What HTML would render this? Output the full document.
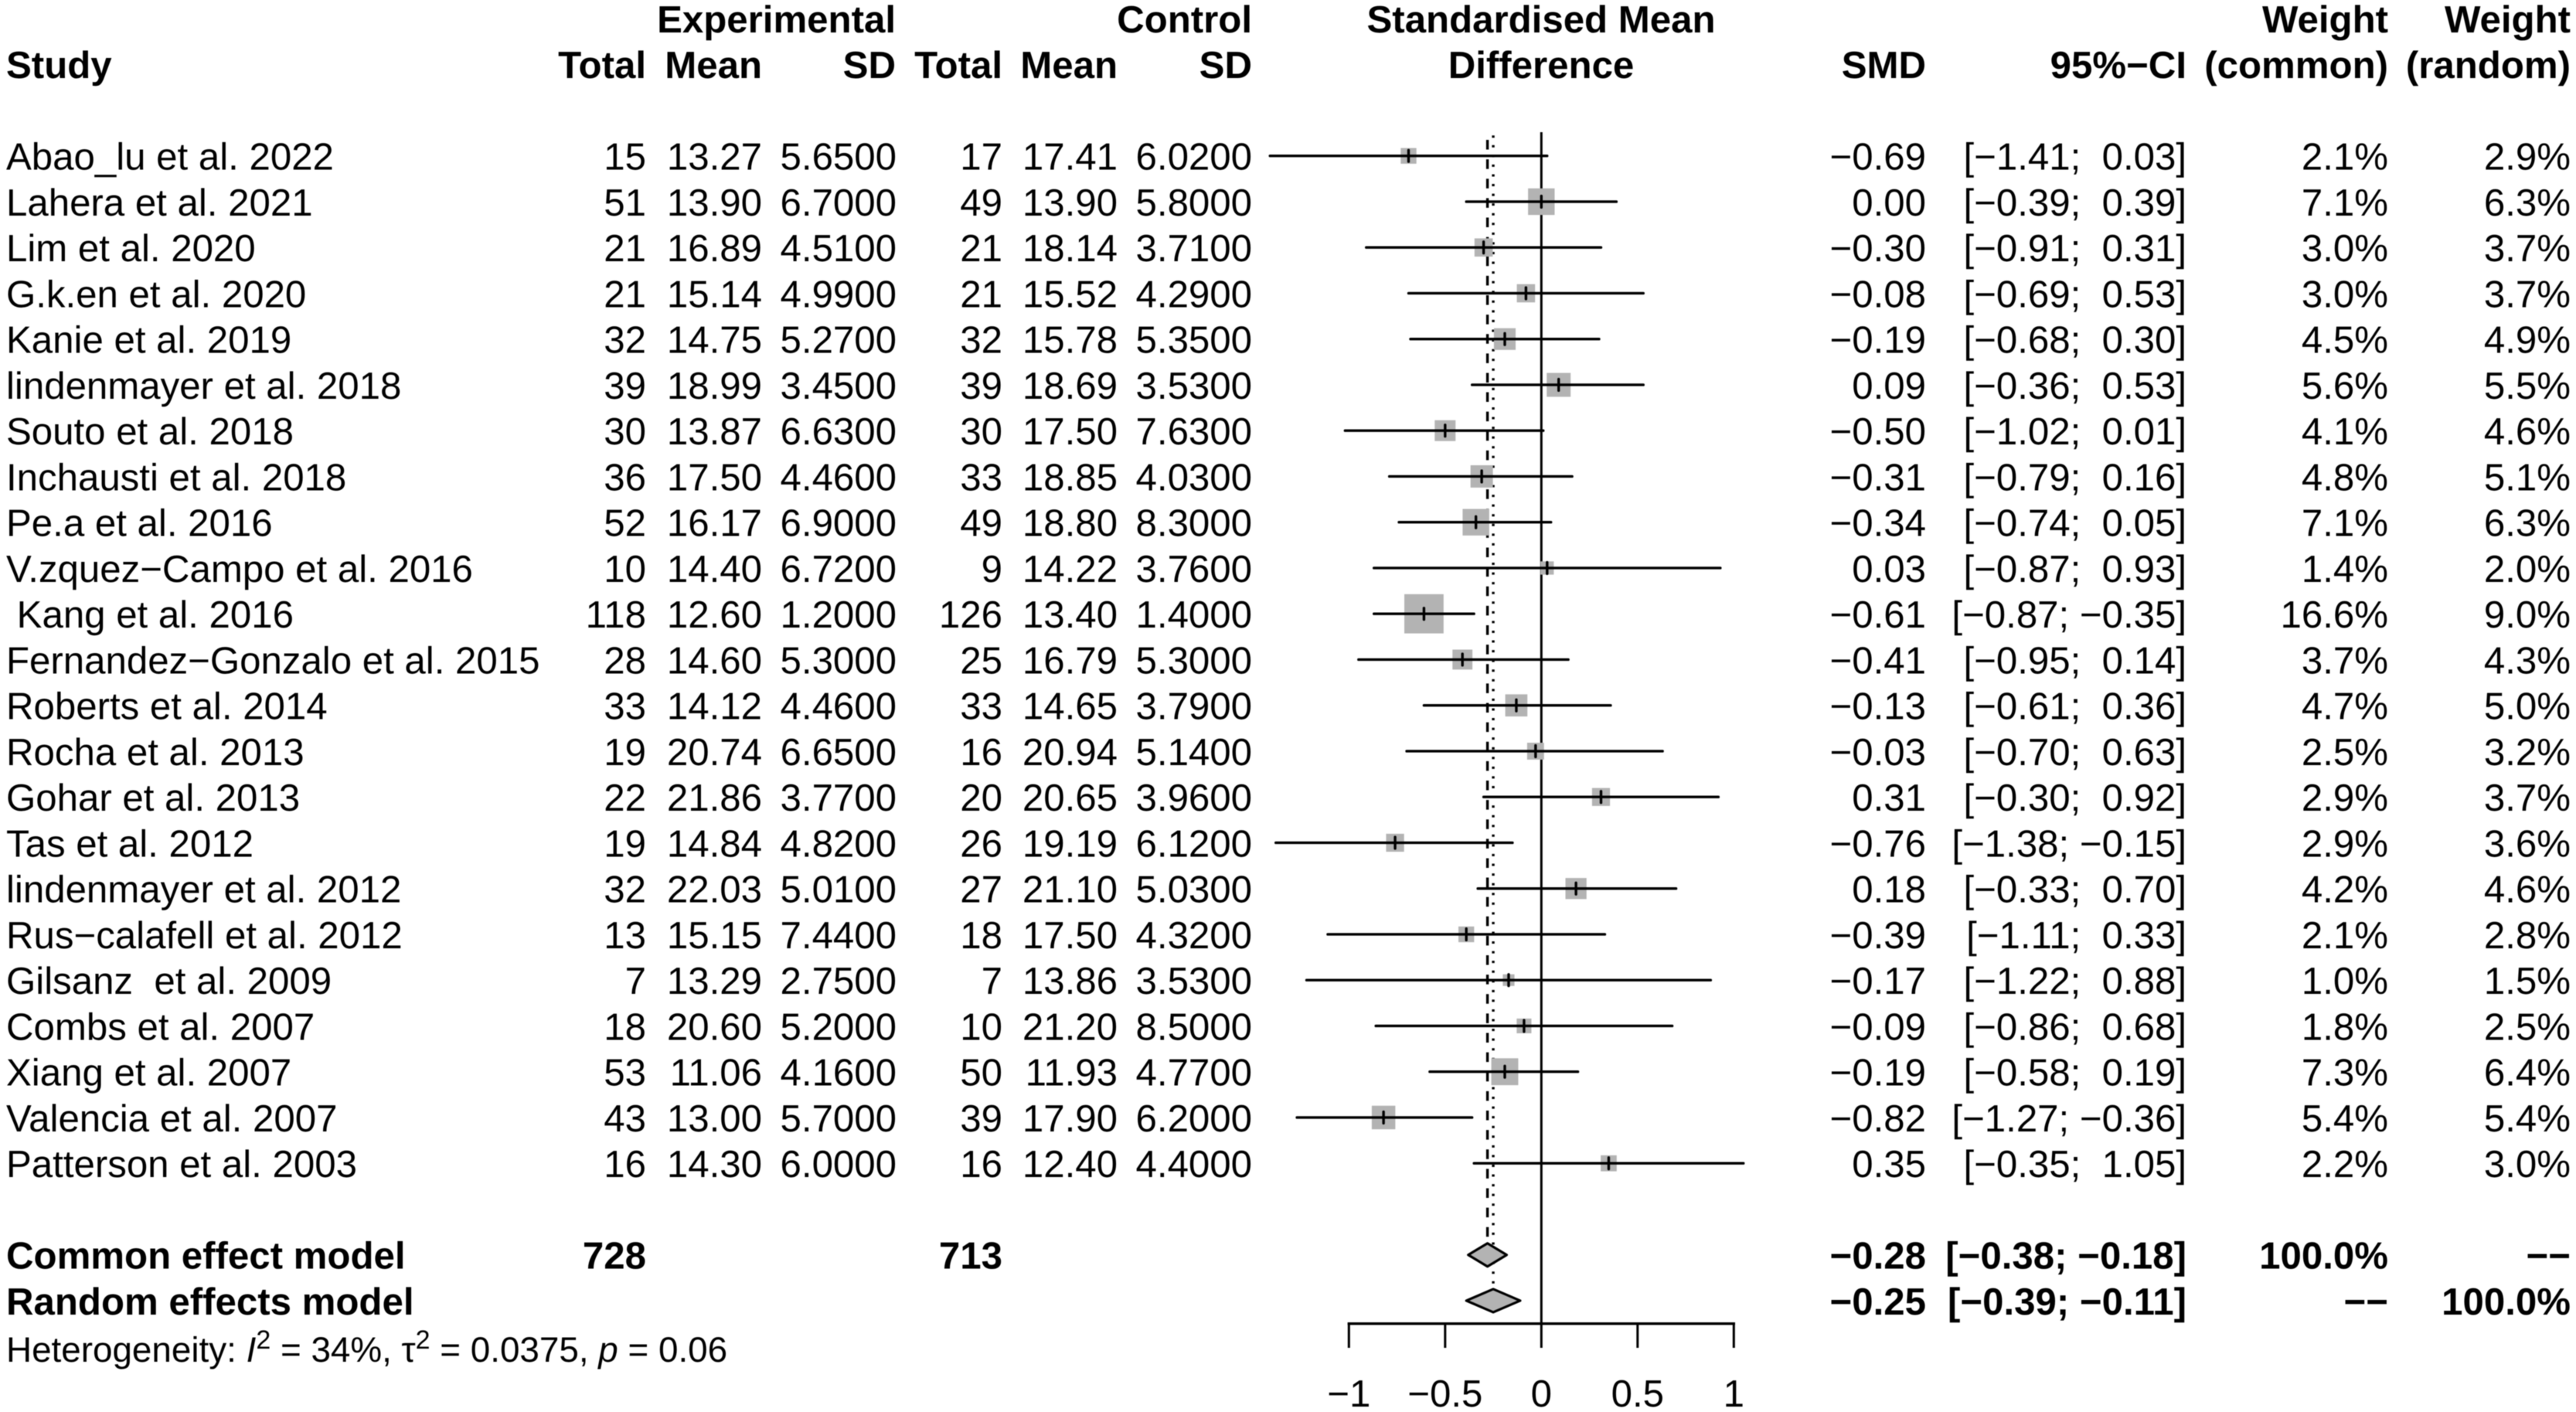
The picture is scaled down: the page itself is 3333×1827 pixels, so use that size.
<!DOCTYPE html>
<html lang="en">
<head>
<meta charset="utf-8">
<title>Forest plot: standardised mean difference</title>
<style>
html,body{margin:0;padding:0;background:#fff;}
svg{display:block;filter:blur(0.5px);}
text{font-family:"Liberation Sans",Arial,sans-serif;font-size:49.2px;fill:#000;white-space:pre;text-rendering:geometricPrecision;}
.b{font-weight:bold;}
.e{text-anchor:end;}
.m{text-anchor:middle;}
</style>
</head>
<body>
<svg id="chart" xmlns="http://www.w3.org/2000/svg" width="3333" height="1827" viewBox="0 0 3333 1827" xml:space="preserve">
<rect x="0" y="0" width="3333" height="1827" fill="#fff"/>
<g id="header">
<text class="b e" x="1159" y="42">Experimental</text>
<text class="b e" x="1620" y="42">Control</text>
<text class="b m" x="1994" y="42">Standardised Mean</text>
<text class="b e" x="3090" y="42">Weight</text>
<text class="b e" x="3326" y="42">Weight</text>
<text class="b" x="8" y="101">Study</text>
<text class="b e" x="836" y="101">Total</text>
<text class="b e" x="986" y="101">Mean</text>
<text class="b e" x="1159" y="101">SD</text>
<text class="b e" x="1297" y="101">Total</text>
<text class="b e" x="1446" y="101">Mean</text>
<text class="b e" x="1620" y="101">SD</text>
<text class="b m" x="1994" y="101">Difference</text>
<text class="b e" x="2492" y="101">SMD</text>
<text class="b e" x="2829" y="101">95%−CI</text>
<text class="b e" x="3090" y="101">(common)</text>
<text class="b e" x="3326" y="101">(random)</text>
</g>
<g id="refLines"></g>
<g id="marks"></g>
<g id="summary"></g>
<g id="axis"></g>
<g id="rows"></g>
<g id="summaryRows"></g>
<text x="8" y="1762" style="font-size:45.8px">Heterogeneity: <tspan font-style="italic">I</tspan><tspan dy="-17" style="font-size:34px">2</tspan><tspan dy="17"> = 34%, τ</tspan><tspan dy="-17" style="font-size:34px">2</tspan><tspan dy="17"> = 0.0375, </tspan><tspan font-style="italic">p</tspan> = 0.06</text>
</svg>
<script>
const studies = ["Abao_lu et al. 2022","Lahera et al. 2021","Lim et al. 2020","G.k.en et al. 2020","Kanie et al. 2019","lindenmayer et al. 2018","Souto et al. 2018","Inchausti et al. 2018","Pe.a et al. 2016","V.zquez−Campo et al. 2016"," Kang et al. 2016","Fernandez−Gonzalo et al. 2015","Roberts et al. 2014","Rocha et al. 2013","Gohar et al. 2013","Tas et al. 2012","lindenmayer et al. 2012","Rus−calafell et al. 2012","Gilsanz  et al. 2009","Combs et al. 2007","Xiang et al. 2007","Valencia et al. 2007","Patterson et al. 2003"];
const expTotal = [15,51,21,21,32,39,30,36,52,10,118,28,33,19,22,19,32,13,7,18,53,43,16];
const expMean = [13.27,13.90,16.89,15.14,14.75,18.99,13.87,17.50,16.17,14.40,12.60,14.60,14.12,20.74,21.86,14.84,22.03,15.15,13.29,20.60,11.06,13.00,14.30];
const expSd = [5.65,6.70,4.51,4.99,5.27,3.45,6.63,4.46,6.90,6.72,1.20,5.30,4.46,6.65,3.77,4.82,5.01,7.44,2.75,5.20,4.16,5.70,6.00];
const ctlTotal = [17,49,21,21,32,39,30,33,49,9,126,25,33,16,20,26,27,18,7,10,50,39,16];
const ctlMean = [17.41,13.90,18.14,15.52,15.78,18.69,17.50,18.85,18.80,14.22,13.40,16.79,14.65,20.94,20.65,19.19,21.10,17.50,13.86,21.20,11.93,17.90,12.40];
const ctlSd = [6.02,5.80,3.71,4.29,5.35,3.53,7.63,4.03,8.30,3.76,1.40,5.30,3.79,5.14,3.96,6.12,5.03,4.32,3.53,8.50,4.77,6.20,4.40];
const smd = [-0.69,0.00,-0.30,-0.08,-0.19,0.09,-0.50,-0.31,-0.34,0.03,-0.61,-0.41,-0.13,-0.03,0.31,-0.76,0.18,-0.39,-0.17,-0.09,-0.19,-0.82,0.35];
const ciLower = [-1.41,-0.39,-0.91,-0.69,-0.68,-0.36,-1.02,-0.79,-0.74,-0.87,-0.87,-0.95,-0.61,-0.70,-0.30,-1.38,-0.33,-1.11,-1.22,-0.86,-0.58,-1.27,-0.35];
const ciUpper = [0.03,0.39,0.31,0.53,0.30,0.53,0.01,0.16,0.05,0.93,-0.35,0.14,0.36,0.63,0.92,-0.15,0.70,0.33,0.88,0.68,0.19,-0.36,1.05];
const weightCommon = [2.1,7.1,3.0,3.0,4.5,5.6,4.1,4.8,7.1,1.4,16.6,3.7,4.7,2.5,2.9,2.9,4.2,2.1,1.0,1.8,7.3,5.4,2.2];
const weightRandom = [2.9,6.3,3.7,3.7,4.9,5.5,4.6,5.1,6.3,2.0,9.0,4.3,5.0,3.2,3.7,3.6,4.6,2.8,1.5,2.5,6.4,5.4,3.0];
const summaryLabels = ["Common effect model","Random effects model"];
const summaryEstimate = [-0.28,-0.25];
const summaryLower = [-0.38,-0.39];
const summaryUpper = [-0.18,-0.11];
const summaryExpTotal = [728,null];
const summaryCtlTotal = [713,null];
const summaryWeightCommon = [100.0,null];
const summaryWeightRandom = [null,100.0];
const axisTicks = [-1,-0.5,0,0.5,1];
const axisTickLabels = ["−1","−0.5","0","0.5","1"];

const SVGNS = "http://www.w3.org/2000/svg";
function xScale(v){ return 1994.3 + 249 * v; }
function yRow(i){ return 201.7 + 59.25 * i; }
function ySummary(i){ return yRow(studies.length + 1 + i); }
function squareSize(w){ return 11.6 * Math.sqrt(w) + 3.5; }
function make(tag, parent){
  const el = document.createElementNS(SVGNS, tag);
  parent.appendChild(el);
  return el;
}
function seg(parent, x1, y1, x2, y2, width, cap){
  const el = make("line", parent);
  el.setAttribute("x1", x1); el.setAttribute("y1", y1);
  el.setAttribute("x2", x2); el.setAttribute("y2", y2);
  el.setAttribute("stroke", "#000");
  el.setAttribute("stroke-width", width);
  el.setAttribute("stroke-linecap", cap || "round");
  return el;
}
function label(parent, x, y, str, cls){
  const el = make("text", parent);
  el.setAttribute("x", x); el.setAttribute("y", y);
  if (cls) el.setAttribute("class", cls);
  el.textContent = str;
  return el;
}
function neg(v, d){ return v.toFixed(d).replace("-", "−"); }
function ciText(lo, up){
  const l = neg(lo, 2), u = neg(up, 2);
  const pl = lo < 0 ? "" : " ";
  const pu = up < 0 ? "" : " ";
  return "[" + pl + l + "; " + pu + u + "]";
}

const refG = document.getElementById("refLines");
const marksG = document.getElementById("marks");
const sumG = document.getElementById("summary");
const axisG = document.getElementById("axis");
const rowsG = document.getElementById("rows");
const sumRowsG = document.getElementById("summaryRows");

const zeroLine = seg(refG, xScale(0), 171, xScale(0), 1712.5, 3, "butt");


const commonLine = seg(refG, xScale(summaryEstimate[0]), 181, xScale(summaryEstimate[0]), ySummary(0) - 15, 3.4, "butt");
commonLine.setAttribute("stroke-dasharray", "12.5 12.62");


const randomLine = seg(refG, xScale(summaryEstimate[1]), 175.2, xScale(summaryEstimate[1]), ySummary(1) - 15, 3.4, "butt");
randomLine.setAttribute("stroke-dasharray", "3 9.564");



studies.forEach(function(name, i){
  const y = yRow(i), cx = xScale(smd[i]), s = squareSize(weightCommon[i]);
  const sq = make("rect", marksG);
  sq.setAttribute("x", cx - s / 2); sq.setAttribute("y", y - s / 2);
  sq.setAttribute("width", s); sq.setAttribute("height", s);
  sq.setAttribute("fill", "#b3b3b3");
  
  
  const ci = seg(marksG, xScale(ciLower[i]), y, xScale(ciUpper[i]), y, 3.4);
  
  
  const tick = seg(marksG, cx, y - 7.4, cx, y + 7.4, 3.4);
  
  

  const b = y + 18;
  const t0 = label(rowsG, 8, b, name);
  
  
  const t1 = label(rowsG, 836, b, String(expTotal[i]), "e");
  
  
  const t2 = label(rowsG, 986, b, expMean[i].toFixed(2), "e");
  
  
  const t3 = label(rowsG, 1160, b, expSd[i].toFixed(4), "e");
  
  
  const t4 = label(rowsG, 1297, b, String(ctlTotal[i]), "e");
  
  
  const t5 = label(rowsG, 1446, b, ctlMean[i].toFixed(2), "e");
  
  
  const t6 = label(rowsG, 1620, b, ctlSd[i].toFixed(4), "e");
  
  
  const t7 = label(rowsG, 2492, b, neg(smd[i], 2), "e");
  
  
  const t8 = label(rowsG, 2829, b, ciText(ciLower[i], ciUpper[i]), "e");
  
  
  const t9 = label(rowsG, 3090, b, weightCommon[i].toFixed(1) + "%", "e");
  
  
  const t10 = label(rowsG, 3326, b, weightRandom[i].toFixed(1) + "%", "e");
  
  
});

summaryLabels.forEach(function(name, i){
  const y = ySummary(i), b = y + 18;
  const d = make("polygon", sumG);
  d.setAttribute("points", [
    xScale(summaryLower[i]) + "," + y,
    xScale(summaryEstimate[i]) + "," + (y - 15),
    xScale(summaryUpper[i]) + "," + y,
    xScale(summaryEstimate[i]) + "," + (y + 15)
  ].join(" "));
  d.setAttribute("fill", "#b3b3b3");
  d.setAttribute("stroke", "#000");
  d.setAttribute("stroke-width", "3.2");
  d.setAttribute("stroke-linejoin", "round");
  
  

  const s0 = label(sumRowsG, 8, b, name, "b");
  
  
  if (summaryExpTotal[i] !== null) {
    const s1 = label(sumRowsG, 836, b, String(summaryExpTotal[i]), "b e");
    
    
  }
  if (summaryCtlTotal[i] !== null) {
    const s2 = label(sumRowsG, 1297, b, String(summaryCtlTotal[i]), "b e");
    
    
  }
  const s3 = label(sumRowsG, 2492, b, neg(summaryEstimate[i], 2), "b e");
  
  
  const s4 = label(sumRowsG, 2829, b, ciText(summaryLower[i], summaryUpper[i]), "b e");
  
  
  const wc = summaryWeightCommon[i];
  const s5 = label(sumRowsG, 3090, b, wc === null ? "−−" : wc.toFixed(1) + "%", "b e");
  
  
  const wr = summaryWeightRandom[i];
  const s6 = label(sumRowsG, 3326, b, wr === null ? "−−" : wr.toFixed(1) + "%", "b e");
  
  
});

const axisLine = seg(axisG, xScale(axisTicks[0]), 1712.7, xScale(axisTicks[axisTicks.length - 1]), 1712.7, 3.4, "square");


axisTicks.forEach(function(v, i){
  const tk = seg(axisG, xScale(v), 1712.7, xScale(v), 1744, 3, "butt");
  
  
  const lb = label(axisG, xScale(v), 1820, axisTickLabels[i], "m");
  
  
});
</script>
</body>
</html>
